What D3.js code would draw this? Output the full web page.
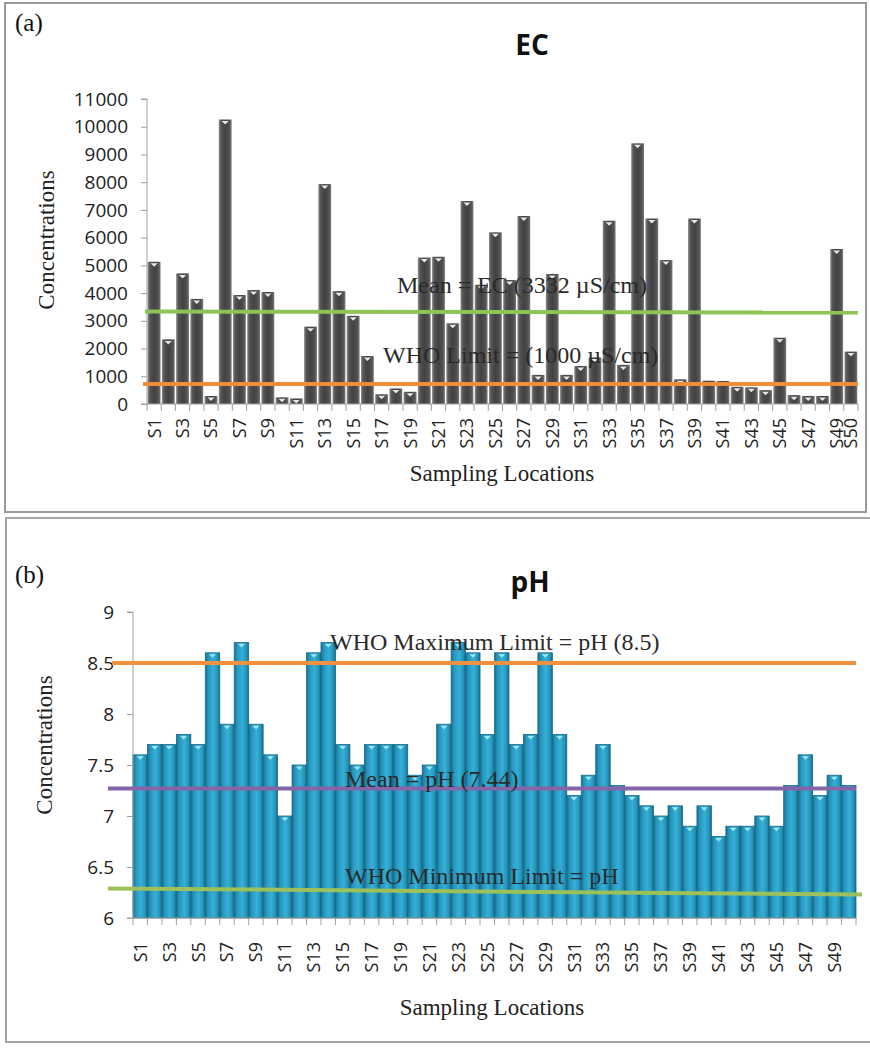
<!DOCTYPE html>
<html>
<head>
<meta charset="utf-8">
<script src="https://cdn.jsdelivr.net/npm/d3@7"></script>
<style>
  body { margin: 0; background: #fff; }
  svg { display: block; }
</style>
</head>
<body>
<svg id="chart" width="870" height="1048"></svg>
<script>
// sampling sites S1..S50
var sites = ["S1","S2","S3","S4","S5","S6","S7","S8","S9","S10",
  "S11","S12","S13","S14","S15","S16","S17","S18","S19","S20",
  "S21","S22","S23","S24","S25","S26","S27","S28","S29","S30",
  "S31","S32","S33","S34","S35","S36","S37","S38","S39","S40",
  "S41","S42","S43","S44","S45","S46","S47","S48","S49","S50"];

// EC values (uS/cm)
var ecValues = [5130,2330,4710,3790,290,10260,3930,4110,4040,240,
  200,2790,7930,4070,3180,1730,350,560,440,5280,
  5310,2910,7320,4300,6190,4470,6780,1050,4690,1050,
  1370,1680,6610,1410,9400,6690,5190,890,6690,840,
  830,620,600,500,2390,320,290,290,5590,1890];

// pH values
var phValues = [7.6,7.7,7.7,7.8,7.7,8.6,7.9,8.7,7.9,7.6,
  7.0,7.5,8.6,8.7,7.7,7.5,7.7,7.7,7.7,7.4,
  7.5,7.9,8.7,8.6,7.8,8.6,7.7,7.8,8.6,7.8,
  7.2,7.4,7.7,7.3,7.2,7.1,7.0,7.1,6.9,7.1,
  6.8,6.9,6.9,7.0,6.9,7.3,7.6,7.2,7.4,7.3];

var ecTicks = [0,1000,2000,3000,4000,5000,6000,7000,8000,9000,10000,11000];
var phTicks = [6,6.5,7,7.5,8,8.5,9];

var ecLabels = sites.filter(function(d, i) { return i % 2 == 0 || i == 49; });
var phLabels = sites.filter(function(d, i) { return i % 2 == 0; });

// reference lines as drawn: [value at left, value at right]
var ecMeanLine = [3332, 3300];
var ecWhoLine = [720, 720];
var phMaxLine = [8.5, 8.5];
var phMeanLine = [7.27, 7.27];
var phMinLine = [6.29, 6.23];

var svg = d3.select("#chart");
var defs = svg.append("defs");

function hGradient(id, stops) {
  var g = defs.append("linearGradient").attr("id", id)
    .attr("x1", "0%").attr("x2", "100%").attr("y1", "0%").attr("y2", "0%");
  stops.forEach(function(s) {
    g.append("stop").attr("offset", s[0]).attr("stop-color", s[1]);
  });
}
hGradient("gradEC", [["0%","#8a8a8a"],["18%","#545454"],["50%","#424242"],["82%","#505050"],["100%","#7a7a7a"]]);
hGradient("gradPH", [["0%","#16708f"],["20%","#2696bd"],["55%","#36b0d8"],["85%","#2493b9"],["100%","#146781"]]);

var serif = "'Liberation Serif', 'Times New Roman', serif";
var sans = "'Open Sans', 'Liberation Sans', sans-serif";

// panel frames
svg.append("rect").attr("x", 5).attr("y", 3).attr("width", 861).attr("height", 509)
  .attr("fill", "none").attr("stroke", "#9a9a9a").attr("stroke-width", 2);
svg.append("rect").attr("x", 6).attr("y", 518).attr("width", 870).attr("height", 524)
  .attr("fill", "none").attr("stroke", "#a5a5a5").attr("stroke-width", 2);

function drawPanel(p) {
  var g = svg.append("g");

  var x = d3.scaleBand().domain(sites).range([p.left, p.right]).paddingInner(p.pad).paddingOuter(p.pad / 2);
  var y = d3.scaleLinear().domain(p.domain).range([p.bottom, p.top]);

  // panel tag and title
  g.append("text").attr("x", 15).attr("y", p.tagY).text(p.tag)
    .style("font-family", serif).style("font-size", "25px").attr("fill", "#111");
  g.append("text").attr("x", p.titleX).attr("y", p.titleY).attr("text-anchor", "middle").text(p.title)
    .style("font-family", sans).style("font-size", "28px").style("font-weight", "bold").attr("fill", "#111");

  // bars
  g.selectAll("rect.bar").data(p.values).enter().append("rect")
    .attr("class", "bar")
    .attr("x", function(d, i) { return x(sites[i]); })
    .attr("y", function(d) { return y(d); })
    .attr("width", x.bandwidth())
    .attr("height", function(d) { return p.bottom - y(d); })
    .attr("fill", p.fill)
    .attr("stroke", p.stroke)
    .attr("stroke-width", p.strokeWidth);

  // little marker at bar top
  g.selectAll("path.cap").data(p.values).enter().append("path")
    .attr("class", "cap")
    .attr("d", function(d, i) {
      var cx = x(sites[i]) + x.bandwidth() / 2, ty = y(d) + 1.5;
      return "M" + (cx - 3.5) + "," + ty + "L" + (cx + 3.5) + "," + ty + "L" + cx + "," + (ty + 3.5) + "Z";
    })
    .attr("fill", p.capColor);

  // y axis
  var yAxis = d3.axisLeft(y).tickValues(p.ticks).tickSize(6).tickPadding(p.tickPad)
    .tickFormat(function(d) { return d; });
  var ya = g.append("g").attr("transform", "translate(" + p.left + ",0)").call(yAxis);
  ya.select(".domain").attr("stroke", "#a0a0a0").attr("d", "M-6," + p.top + "H0V" + p.bottom + "H-6");
  ya.selectAll(".tick line").attr("stroke", "#a0a0a0");
  ya.selectAll(".tick text").style("font-family", sans).style("font-size", "19px").attr("fill", "#222");

  // x axis line + boundary ticks
  g.append("line").attr("x1", p.left).attr("x2", p.right).attr("y1", p.bottom).attr("y2", p.bottom)
    .attr("stroke", "#a0a0a0");
  var bounds = sites.map(function(s) { return x(s) - x.step() * x.paddingInner() / 2; });
  bounds.push(p.right);
  g.selectAll("line.xt").data(bounds).enter().append("line")
    .attr("x1", function(d) { return d; }).attr("x2", function(d) { return d; })
    .attr("y1", p.bottom).attr("y2", p.bottom + 7)
    .attr("stroke", "#a0a0a0");

  g.selectAll("text.xl").data(p.labels).enter().append("text")
    .attr("transform", function(d) {
      return "translate(" + (x(d) + x.bandwidth() / 2 + 6.5) + "," + (p.bottom + p.labelGap) + ") rotate(-90)";
    })
    .attr("text-anchor", "end")
    .text(function(d) { return d; })
    .style("font-family", sans).style("font-size", "18px").attr("fill", "#222");

  // axis titles
  g.append("text").attr("transform", "translate(" + p.yTitleX + "," + p.yTitleY + ") rotate(-90)")
    .attr("text-anchor", "middle").text("Concentrations")
    .style("font-family", serif).style("font-size", "23px").attr("fill", "#222");
  g.append("text").attr("x", p.xTitleX).attr("y", p.xTitleY).attr("text-anchor", "middle").text("Sampling Locations")
    .style("font-family", serif).style("font-size", "23px").attr("fill", "#222");

  // reference lines
  p.lines.forEach(function(l) {
    g.append("line").attr("x1", l.x1).attr("x2", l.x2)
      .attr("y1", y(l.v[0])).attr("y2", y(l.v[1]))
      .attr("stroke", l.color).attr("stroke-width", 4);
  });

  // annotations
  p.notes.forEach(function(n) {
    g.append("text").attr("x", n.x).attr("y", n.y).text(n.t)
      .style("font-family", serif).style("font-size", n.size + "px").attr("fill", "#2a2a2a");
  });
}

drawPanel({
  tag: "(a)", tagY: 31, title: "EC", titleX: 532, titleY: 55,
  values: ecValues, labels: ecLabels, ticks: ecTicks, domain: [0, 11000],
  left: 147, right: 858, top: 99, bottom: 404, pad: 0.1, tickPad: 13,
  fill: "url(#gradEC)", stroke: "none", strokeWidth: 0, capColor: "#e8e8e8",
  labelGap: 14, yTitleX: 54, yTitleY: 240, xTitleX: 502, xTitleY: 481,
  lines: [
    { v: ecMeanLine, color: "#8dc455", x1: 145, x2: 858 },
    { v: ecWhoLine, color: "#f28c38", x1: 143, x2: 858 }
  ],
  notes: [
    { t: "Mean = EC (3332 \u00b5S/cm)", x: 397, y: 293, size: 24 },
    { t: "WHO  Limit = (1000 \u00b5S/cm)", x: 383, y: 363, size: 24 }
  ]
});

drawPanel({
  tag: "(b)", tagY: 583, title: "pH", titleX: 530, titleY: 592,
  values: phValues, labels: phLabels, ticks: phTicks, domain: [6, 9],
  left: 133, right: 856, top: 612, bottom: 918, pad: 0, tickPad: 13,
  fill: "url(#gradPH)", stroke: "#1a6a86", strokeWidth: 0.8, capColor: "#9ee6f5",
  labelGap: 24, yTitleX: 52, yTitleY: 745, xTitleX: 492, xTitleY: 1015,
  lines: [
    { v: phMaxLine, color: "#f0913f", x1: 112, x2: 856 },
    { v: phMeanLine, color: "#8466a8", x1: 108, x2: 856 },
    { v: phMinLine, color: "#9cc15a", x1: 108, x2: 862 }
  ],
  notes: [
    { t: "WHO Maximum Limit = pH (8.5)", x: 330, y: 650, size: 24 },
    { t: "Mean = pH (7.44)", x: 345, y: 787, size: 24 },
    { t: "WHO Minimum Limit = pH", x: 345, y: 884, size: 24 }
  ]
});
</script>
</body>
</html>
